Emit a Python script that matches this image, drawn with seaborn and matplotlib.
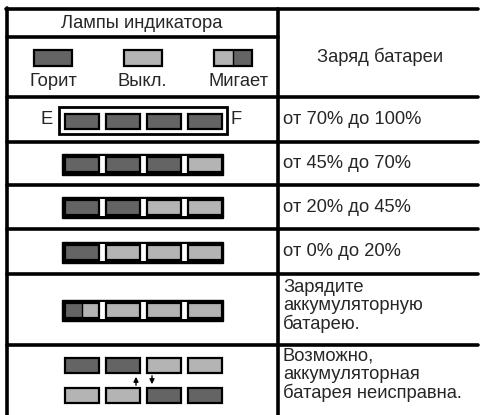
import matplotlib
matplotlib.use("Agg")
import matplotlib.pyplot as plt
import seaborn as sns
from matplotlib.patches import Rectangle

sns.set_style("white")
plt.rcParams["font.family"] = ["Liberation Sans", "DejaVu Sans"]

# data
header_left = "Лампы индикатора"
header_right = "Заряд батареи"
legend_labels = ["Горит", "Выкл.", "Мигает"]
legend_states = ["on", "off", "blink_lr"]
level_states = [
    ["on", "on", "on", "on"],
    ["on", "on", "on", "off"],
    ["on", "on", "off", "off"],
    ["on", "off", "off", "off"],
    ["blink_rl", "off", "off", "off"],
]
fault_top = ["on", "on", "off", "off"]
fault_bottom = ["off", "off", "on", "on"]
row_labels = [
    "от 70% до 100%",
    "от 45% до 70%",
    "от 20% до 45%",
    "от 0% до 20%",
    "Зарядите\nаккумуляторную\nбатарею.",
    "Возможно,\nаккумуляторная\nбатарея неисправна.",
]

DARK = "#646464"
LIGHT = "#b4b4b4"
FS = 13.2

row_lines = [97, 142, 185, 229, 274, 345]
row_bottom = 415
col_x = 278
lamp_x = [65, 106, 147, 188]
lamp_w = 34

fig = plt.figure(figsize=(4.81, 4.15), dpi=100)
ax = fig.add_axes([0, 0, 1, 1])
ax.set_xlim(0, 481)
ax.set_ylim(415, 0)
ax.axis("off")


def lamp(x, y, w, h, state):
    if state.startswith("blink"):
        c1, c2 = (LIGHT, DARK) if state == "blink_lr" else (DARK, LIGHT)
        ax.add_patch(Rectangle((x, y), w / 2, h, fc=c1, ec="none"))
        ax.add_patch(Rectangle((x + w / 2, y), w / 2, h, fc=c2, ec="none"))
        ax.add_patch(Rectangle((x, y), w, h, fc="none", ec="black", lw=1.6))
        ax.plot([x + w / 2, x + w / 2], [y, y + h], color="black", lw=1)
    else:
        ax.add_patch(Rectangle((x, y), w, h, fc=DARK if state == "on" else LIGHT,
                               ec="black", lw=1.6))


# grid
lw = 2.6
ax.plot([7, 7], [8, 415], color="black", lw=lw)
ax.plot([5.7, 478], [9, 9], color="black", lw=lw)
ax.plot([7, col_x], [37, 37], color="black", lw=lw)
ax.plot([col_x, col_x], [9, 415], color="black", lw=lw)
for y in row_lines:
    ax.plot([7, 478], [y, y], color="black", lw=lw)

# header
ax.text(142, 23, header_left, ha="center", va="center", fontsize=FS)
ax.text(380, 57, header_right, ha="center", va="center", fontsize=FS)
for cx, tx, lab, st in zip([53, 143, 233], [53, 142, 239], legend_labels, legend_states):
    lamp(cx - 19, 50, 38, 16, st)
    ax.text(tx, 81, lab, ha="center", va="center", fontsize=FS)

# level rows
edges = row_lines + [row_bottom]
for i, states in enumerate(level_states):
    top, bot = edges[i], edges[i + 1]
    cy = (top + bot) / 2
    if i == 0:
        ax.add_patch(Rectangle((59, cy - 13), 168, 27, fc="white", ec="black", lw=2))
        ax.text(47, cy, "E", ha="center", va="center", fontsize=FS)
        ax.text(236, cy, "F", ha="center", va="center", fontsize=FS)
        for x, st in zip(lamp_x, states):
            lamp(x, cy - 6, lamp_w, 15, st)
    else:
        ax.add_patch(Rectangle((62, cy - 10), 161, 21, fc="black", ec="black", lw=1))
        for x in lamp_x[1:]:
            ax.add_patch(Rectangle((x - 6, cy - 8), 5, 17, fc="white", ec="none"))
        for x, st in zip(lamp_x, states):
            lamp(x, cy - 7, lamp_w, 15, st)

# fault row
for x, st in zip(lamp_x, fault_top):
    lamp(x, 358, lamp_w, 15, st)
for x, st in zip(lamp_x, fault_bottom):
    lamp(x, 388, lamp_w, 15, st)
ax.annotate("", xy=(136, 374), xytext=(136, 388),
            arrowprops=dict(arrowstyle="-|>", color="black", lw=1, mutation_scale=7))
ax.annotate("", xy=(152, 387), xytext=(152, 373),
            arrowprops=dict(arrowstyle="-|>", color="black", lw=1, mutation_scale=7))

# right column labels
for i, lab in enumerate(row_labels):
    top, bot = edges[i], edges[i + 1]
    if "\n" in lab:
        ax.text(283, top + 32 if i == 4 else top + 30, lab, ha="left", va="center",
                fontsize=FS, linespacing=1.08)
    else:
        ax.text(283, (top + bot) / 2, lab, ha="left", va="center", fontsize=FS)

fig.savefig("out.png", dpi=100)
